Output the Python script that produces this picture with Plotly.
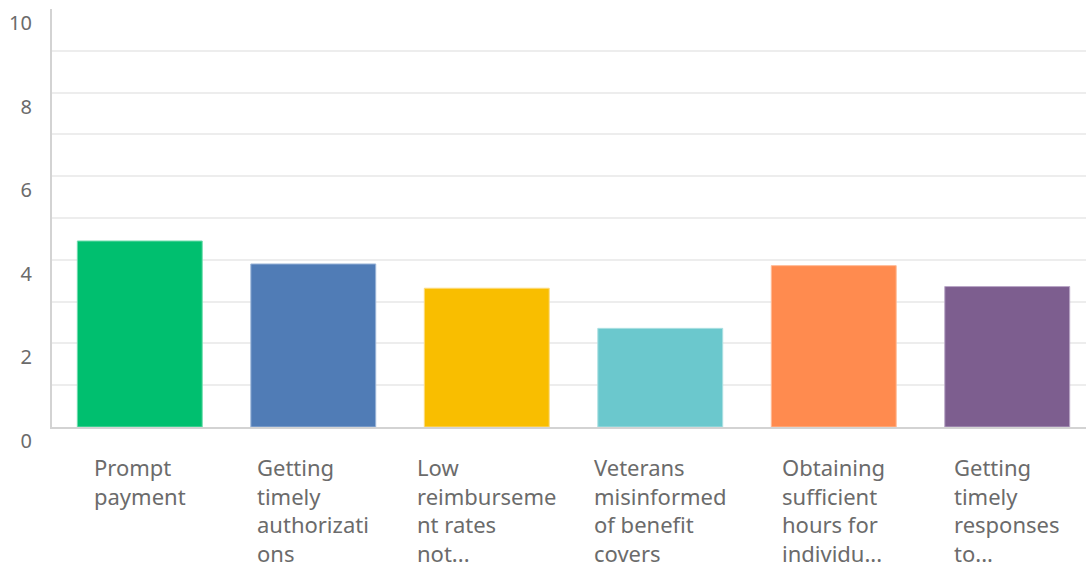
import plotly.graph_objects as go

categories = ["Prompt<br>payment",
              "Getting<br>timely<br>authorizati<br>ons",
              "Low<br>reimburseme<br>nt rates<br>not...",
              "Veterans<br>misinformed<br>of benefit<br>covers",
              "Obtaining<br>sufficient<br>hours for<br>individu...",
              "Getting<br>timely<br>responses<br>to..."]
values = [4.45, 3.90, 3.32, 2.36, 3.86, 3.36]
colors = ["#00BF6F", "#507CB6", "#F9BE00", "#6BC8CD", "#FF8B4F", "#7D5E8F"]
edge_colors = ["#6FDDAE", "#9BB5D8", "#FCDB80", "#ABE0E2", "#FFBA96", "#B9A6C6"]
yticks = [0, 2, 4, 6, 8, 10]

xs = list(range(len(categories)))
fig = go.Figure(go.Bar(
    x=xs, y=values,
    marker=dict(color=colors, line=dict(color=edge_colors, width=1)),
    width=0.72,
))

for i, lab in enumerate(categories):
    fig.add_annotation(x=i, y=0, xref="x", yref="y", text=lab,
                       showarrow=False, xanchor="center", yanchor="top",
                       align="left", yshift=-23,
                       font=dict(family="Noto Sans", size=22, color="#6B6B6B"))

fig.update_layout(
    width=1086, height=569,
    margin=dict(l=52, r=0, t=9, b=142),
    plot_bgcolor="white", paper_bgcolor="white",
    showlegend=False,
    font=dict(family="Noto Sans", color="#6B6B6B"),
)
fig.update_xaxes(range=[-0.506, 5.454], showticklabels=False, showgrid=False,
                 showline=True, linecolor="#D3D3D3", linewidth=2, zeroline=False)
fig.update_yaxes(range=[0, 10], tickvals=yticks, ticktext=[str(v) for v in yticks],
                 showgrid=True, gridcolor="#EDEDED", gridwidth=1.5,
                 minor=dict(dtick=1, showgrid=True, gridcolor="#EDEDED", gridwidth=1.5),
                 showline=True, linecolor="#D3D3D3", linewidth=2, zeroline=False,
                 ticks="", ticklabelposition="outside bottom", ticklabelstandoff=14,
                 tickfont=dict(family="Noto Sans", size=20, color="#6B6B6B"))

fig.write_html("out.html")
